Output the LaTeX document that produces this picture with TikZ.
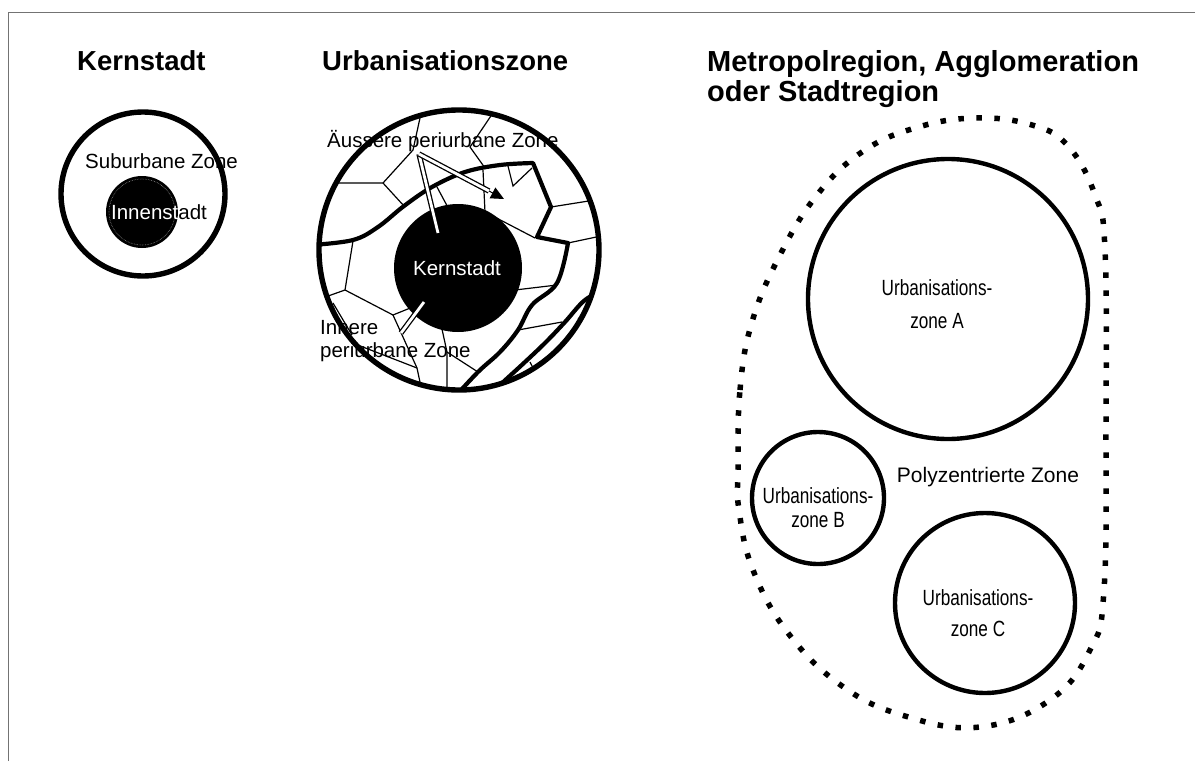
\documentclass[tikz,border=0pt]{standalone}
\usepackage{fontspec}
\setmainfont{Liberation Sans}
\newfontfamily\narrowfont[FakeStretch=0.78]{Liberation Sans}
\usetikzlibrary{arrows.meta}
\tikzset{
	rahmen/.style={line width=0.8pt, color=black!55},
	titel/.style={anchor=base west, inner sep=0pt, font=\bfseries\fontsize{27.5}{30}\selectfont},
	zonetext/.style={inner sep=0pt, font=\fontsize{20.5}{23}\selectfont},
	urbtext/.style={inner sep=0pt, align=center, font=\narrowfont\fontsize{22}{24}\selectfont},
	ring/.style={line width=5.4pt},
	ringklein/.style={line width=4.4pt},
	grenze/.style={line width=4.2pt, line join=round, line cap=round},
	zelle/.style={line width=1.2pt},
	zeiger/.style={line width=1.3pt, double=white, double distance=2.8pt},
	punktlinie/.style={line width=5.5pt, dash pattern=on 5.5pt off 12.5pt},
}

\begin{document}
\begin{tikzpicture}[x=1pt,y=-1pt]
		%%%%% START %%%%%
		\useasboundingbox (0,0) rectangle (1195,761);
		\draw[rahmen] (8,761) -- (8,12) -- (1195,12);
		
		\node[titel] (t1) at (77,70) {Kernstadt};
		\node[titel] (t2) at (322,70) {Urbanisationszone};
		\node[titel, align=left, anchor=north west, font=\bfseries\fontsize{29}{30}\selectfont] (t3) at (707,50) {Metropolregion, Agglomeration\\oder Stadtregion};
		
		% Kernstadt
		\draw[ring] (143,194) circle (82);
		\fill (142,212) circle (36);
		\draw[line width=0.6pt, color=black!45, densely dotted] (142,212) circle (33);
		\node[zonetext, anchor=base west] (sub) at (85,168) {Suburbane Zone};
		\node[zonetext] (innen) at (159,212) {Innenstadt};
		\begin{scope}
			\clip (142,212) circle (36);
			\node[zonetext, color=white] at (innen) {Innenstadt};
		\end{scope}
		
		% Urbanisationszone
		\begin{scope}
			\clip (459,250) circle (140);
			\draw[zelle] (300,183) -- (383,183) -- (413,150) -- (425,95);
			\draw[zelle] (383,183) -- (404,206);
			\draw[zelle] (505,95) -- (470,147) -- (485,168);
			\draw[zelle] (508,166) -- (513,186) -- (532,168);
			\draw[zelle] (437,187) -- (452,215);
			\draw[zelle] (483,170) -- (485,212) -- (535,238);
			\draw[zelle] (551,207) -- (620,196);
			\draw[zelle] (568,243) -- (620,232);
			\draw[zelle] (353,241) -- (345,290) -- (300,306);
			\draw[zelle] (345,290) -- (393,315) -- (430,300);
			\draw[zelle] (393,315) -- (417,368) -- (428,420);
			\draw[zelle] (417,368) -- (350,342);
			\draw[zelle] (333,303) -- (352,335);
			\draw[zelle] (440,320) -- (447,352) -- (447,420);
			\draw[zelle] (447,352) -- (478,372);
			\draw[zelle] (515,290) -- (557,285);
			\draw[zelle] (518,330) -- (562,322);
			\draw[zelle] (578,318) -- (620,345);
			\draw[zelle] (530,362) -- (560,420);
			
			\draw[grenze] plot[smooth, tension=0.6] coordinates {(312,245) (353,240) (378,227) (404,206) (432,187) (465,172) (500,165) (533,163)}
				-- (551,207) -- (537,237) -- (568,243)
				-- plot[smooth, tension=0.6] coordinates {(568,243) (557,283) (532,305) (518,330) (500,352) (478,372) (452,400)};
			\draw[grenze] plot[smooth, tension=0.6] coordinates {(605,290) (585,300) (565,322) (546,342) (525,362) (500,385) (485,400)};
		\end{scope}
		\fill (458,268) circle (64);
		\draw[ring] (459,250) circle (140);
		
		\node[zonetext, anchor=base west] (aussen) at (327,147) {Äussere periurbane Zone};
		\node[zonetext, color=white] (kern) at (457,268) {Kernstadt};
		\node[zonetext, align=left, anchor=north west] (inner) at (320,320) {Innere\\periurbane Zone};
		
		\coordinate (z0) at (419,154);
		\coordinate (z1) at (438,233);
		\coordinate (z2) at (489,191);
		\coordinate (z2tip) at (504,199);
		\coordinate (z3) at (401,333);
		\coordinate (z3end) at (424,302);
		\draw[zeiger] (z0) -- (z1);
		\draw[zeiger] (z0) -- (z2);
		\draw[line width=1pt, -{Triangle[length=13pt, width=12pt]}] (z2) -- (z2tip);
		\draw[zeiger] (z3) -- (z3end);
		
		% Metropolregion
		\draw[punktlinie] plot[smooth cycle, tension=0.7] coordinates {(738,470) (740,390) (752,322) (780,255) (817,195) (862,152) (915,128) (975,118) (1032,125) (1068,146) (1095,195) (1105,250) (1106,420) (1104,590) (1090,650) (1050,700) (980,727) (905,716) (842,686) (788,633) (753,570) (739,510)};
		
		\draw[ringklein] (948,299) circle (140);
		\draw[ringklein] (818,498) circle (66);
		\draw[ringklein] (985,603) circle (90);
		\node[urbtext] (zA) at (937,304) {Urbanisations-\\[9pt]zone A};
		\node[urbtext] (zB) at (818,508) {Urbanisations-\\zone B};
		\node[urbtext] (zC) at (978,613) {Urbanisations-\\[7pt]zone C};
		\node[zonetext, font=\fontsize{21}{23}\selectfont] (poly) at (988,477) {Polyzentrierte Zone};
		
		%%%%% END %%%%%
\end{tikzpicture}
\end{document}
